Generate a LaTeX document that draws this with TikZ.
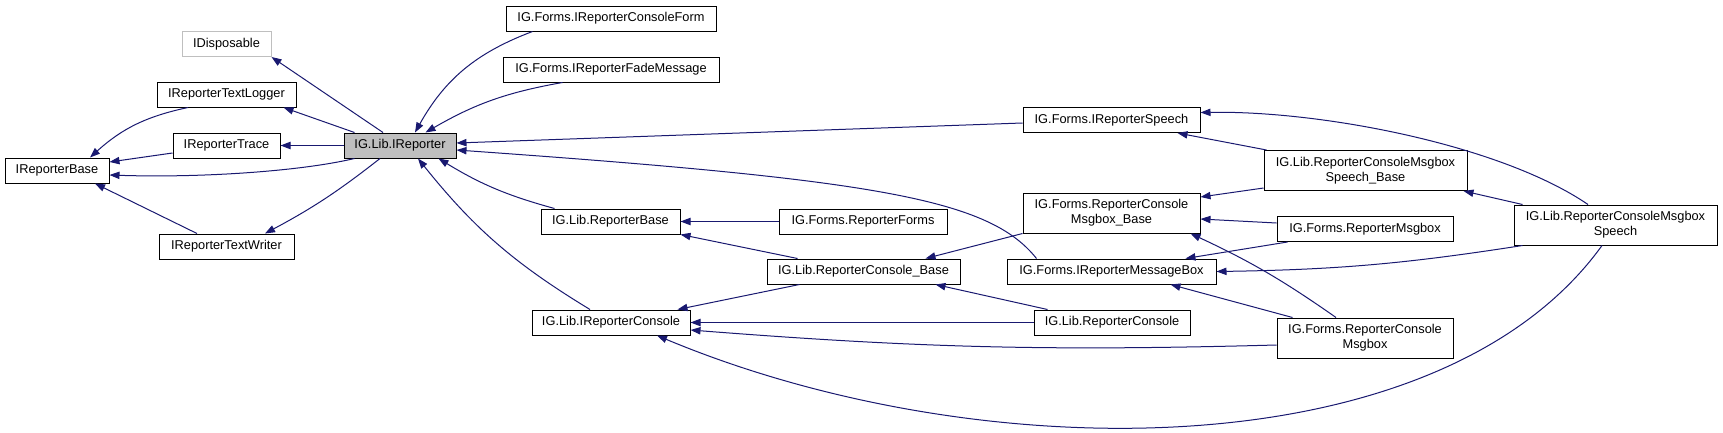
\documentclass[tikz,border=0pt]{standalone}
\usepackage{fontspec}
\setmainfont{Liberation Sans}
\usetikzlibrary{arrows.meta}
\definecolor{edgeblue}{HTML}{191970}
\definecolor{boxgray}{HTML}{BFBFBF}
\begin{document}
\begin{tikzpicture}[x=0.75pt, y=-0.75pt, >={Triangle[length=7.5pt,width=5.5pt]},
  cls/.style={draw, rectangle, line width=0.75pt, inner sep=0pt, minimum height=18.75pt, minimum width=#1, font=\fontsize{9.6}{11.25}\selectfont, align=center},
  cls2/.style={cls=#1, minimum height=30pt},
  inh/.style={->, edgeblue, line width=0.75pt}]
\useasboundingbox (0,0) rectangle (1723,432);
\node[cls=66.75pt, draw=boxgray] (disp) at (226.5,44) {IDisposable};
\node[cls=104.25pt] (logger) at (226.5,94.5) {IReporterTextLogger};
\node[cls=80.25pt] (trace) at (226.5,145.5) {IReporterTrace};
\node[cls=78pt] (rbase) at (57,170.5) {IReporterBase};
\node[cls=84pt, fill=boxgray] (irep) at (400,145.5) {IG.Lib.IReporter};
\node[cls=101.25pt] (writer) at (226.5,246.5) {IReporterTextWriter};
\node[cls=157.5pt] (cform) at (611,18.5) {IG.Forms.IReporterConsoleForm};
\node[cls=162pt] (fade) at (611,69.5) {IG.Forms.IReporterFadeMessage};
\node[cls=104.25pt] (repbase) at (610.5,221.5) {IG.Lib.ReporterBase};
\node[cls=118.5pt] (irc) at (611,322.5) {IG.Lib.IReporterConsole};
\node[cls=126pt] (forms) at (863,221.5) {IG.Forms.ReporterForms};
\node[cls=144.75pt] (rcbase) at (863.5,271.5) {IG.Lib.ReporterConsole\_Base};
\node[cls=132.75pt] (speech) at (1111.5,120) {IG.Forms.IReporterSpeech};
\node[cls2=132.75pt] (rcmbase) at (1111.5,213) {IG.Forms.ReporterConsole\\Msgbox\_Base};
\node[cls=156.75pt] (imsg) at (1111.5,271.5) {IG.Forms.IReporterMessageBox};
\node[cls=117pt] (rc) at (1112,322.5) {IG.Lib.ReporterConsole};
\node[cls2=152.25pt] (rcmsbase) at (1365.5,170.5) {IG.Lib.ReporterConsoleMsgbox\\Speech\_Base};
\node[cls=132pt] (msgbox) at (1365,229) {IG.Forms.ReporterMsgbox};
\node[cls2=132pt] (rcm) at (1365,338) {IG.Forms.ReporterConsole\\Msgbox};
\node[cls2=152.25pt] (rcms) at (1615.5,225) {IG.Lib.ReporterConsoleMsgbox\\Speech};
\draw[inh] ([shift={(-17,0)}]irep.north) -- (disp.south east);
\draw[inh] ([shift={(11,0)}]irep.north west) -- ([shift={(-13,0)}]logger.south east);
\draw[inh] (irep.west) -- (trace.east);
\draw[inh] ([shift={(11,0)}]irep.south west) .. controls +(-55,13) and +(90,3) .. ([shift={(0,4.5)}]rbase.east);
\draw[inh] ([shift={(-20,0)}]irep.south) to[bend left=5] ([shift={(38.5,0)}]writer.north);
\draw[inh] ([shift={(-38.5,0)}]logger.south) to[bend right=15] ([shift={(33,0)}]rbase.north);
\draw[inh] ([shift={(0,7.5)}]trace.west) -- ([shift={(0,-8.5)}]rbase.east);
\draw[inh] ([shift={(-29.5,0)}]writer.north) -- ([shift={(38,0)}]rbase.south);
\draw[inh] ([shift={(27,0)}]cform.south west) to[bend right=20] ([shift={(15,0)}]irep.north);
\draw[inh] ([shift={(60,0)}]fade.south west) to[bend right=10] ([shift={(-31,0)}]irep.north east);
\draw[inh] ([shift={(0,3)}]speech.west) -- ([shift={(0,-2.5)}]irep.east);
\draw[inh] ([shift={(30,0)}]imsg.north west) .. controls +(-47,-59) and +(424,30) .. ([shift={(0,4.5)}]irep.east);
\draw[inh] ([shift={(14,0)}]repbase.north west) to[bend left=8] ([shift={(-18,0)}]irep.south east);
\draw[inh] ([shift={(-21,0)}]irc.north) to[bend left=10] ([shift={(18,0)}]irep.south);
\draw[inh] (forms.west) -- (repbase.east);
\draw[inh] ([shift={(31,0)}]rcbase.north west) -- (repbase.south east);
\draw[inh] ([shift={(33,0)}]rcbase.south west) -- ([shift={(-13,0)}]irc.north east);
\draw[inh] (rcmbase.south west) -- ([shift={(-35,0)}]rcbase.north east);
\draw[inh] ([shift={(14,0)}]rc.north west) -- ([shift={(-25,0)}]rcbase.south east);
\draw[inh] (rc.west) -- (irc.east);
\draw[inh] ([shift={(0,7)}]rcm.west) to[bend left=3] ([shift={(0,7.5)}]irc.east);
\draw[inh] ([shift={(-13.5,0)}]rcms.south) .. controls +(-162,225) and +(323,135) .. ([shift={(46,0)}]irc.south);
\draw[inh] ([shift={(16,0)}]rcm.north west) -- ([shift={(-46,0)}]imsg.south east);
\draw[inh] ([shift={(-29,0)}]rcm.north) to[bend right=5] ([shift={(-10,0)}]rcmbase.south east);
\draw[inh] ([shift={(0,-6)}]msgbox.west) -- ([shift={(0,6)}]rcmbase.east);
\draw[inh] ([shift={(11,0)}]msgbox.south west) -- ([shift={(-31,0)}]imsg.north east);
\draw[inh] ([shift={(3,0)}]rcmsbase.north west) -- ([shift={(-23,0)}]speech.south east);
\draw[inh] ([shift={(0,17.5)}]rcmsbase.west) -- ([shift={(0,-16)}]rcmbase.east);
\draw[inh] ([shift={(-27.5,0)}]rcms.north) .. controls +(-88,-60) and +(120,-2) .. ([shift={(0,-7.5)}]speech.east);
\draw[inh] ([shift={(9,0)}]rcms.north west) -- ([shift={(-4,0)}]rcmsbase.south east);
\draw[inh] ([shift={(9,0)}]rcms.south west) to[bend left=4] (imsg.east);
\end{tikzpicture}
\end{document}
